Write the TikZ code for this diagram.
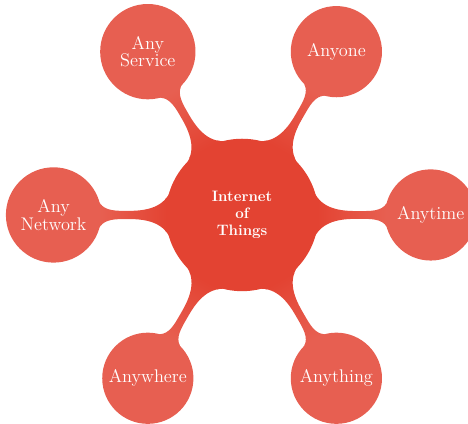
\documentclass[tikz,border=0pt]{standalone}
\usetikzlibrary{mindmap}
\definecolor{iotred}{RGB}{227,67,50}
\colorlet{iotpink}{iotred!85}
\tikzset{
  hub/.style={concept, concept color=iotred, minimum size=4cm, text width=1.9cm,
    align=center, font=\fontsize{11.4}{12.9}\selectfont\bfseries},
  spoke/.style={concept, concept color=iotpink, minimum size=2.35cm, text width=2.25cm,
    align=center, font=\fontsize{13.8}{13.4}\selectfont},
  bar/.style={circle connection bar switch color=from (iotred) to (iotpink)}
}
\begin{document}
\begin{tikzpicture}[mindmap, text=white]
      \useasboundingbox (-6.42,-5.52) rectangle (5.99,5.70);
      \path
        (0,0) node[hub] (iot){Internet\\of\\Things}
        (0:5) node[spoke] (time){Anytime}
        (60:5) node[spoke] (one){Anyone}
        (120:5) node[spoke] (service){Any\\Service}
        (180:5) node[spoke] (network){Any\\Network}
        (240:5) node[spoke] (where){Anywhere}
        (300:5) node[spoke] (thing){Anything};
      \begin{scope}
        \path (iot) to[bar] (time);
        \path (iot) to[bar] (one);
        \path (iot) to[bar] (service);
        \path (iot) to[bar] (network);
        \path (iot) to[bar] (where);
        \path (iot) to[bar] (thing);
      \end{scope}
    \end{tikzpicture}
\end{document}
